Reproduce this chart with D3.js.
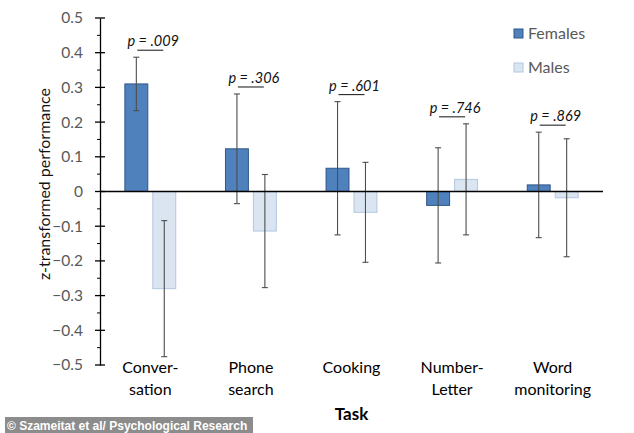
<!DOCTYPE html>
<html>
<head>
<meta charset="utf-8">
<script src="https://cdn.jsdelivr.net/npm/d3@7"></script>
<style>
  body { margin: 0; background: #fff; }
  svg text { font-family: Lato, "Open Sans", sans-serif; }
</style>
</head>
<body>
<svg width="634" height="433"></svg>
<script>
// data
const tasks = [["Conver-", "sation"], ["Phone", "search"], ["Cooking"], ["Number-", "Letter"], ["Word", "monitoring"]];
const series = ["Females", "Males"];
const females = [0.31, 0.123, 0.067, -0.04, 0.019];
const femalesErr = [0.077, 0.158, 0.192, 0.166, 0.152];
const males = [-0.28, -0.114, -0.06, 0.035, -0.018];
const malesErr = [0.196, 0.163, 0.144, 0.16, 0.17];
const pValues = ["p = .009", "p = .306", "p = .601", "p = .746", "p = .869"];
const yTicks = [0.5, 0.4, 0.3, 0.2, 0.1, 0, -0.1, -0.2, -0.3, -0.4, -0.5];

const colors = { Females: { fill: "#4f81bd", stroke: "#2f5788" }, Males: { fill: "#dbe5f1", stroke: "#b3c7e0" } };

const svg = d3.select("svg");
const plotLeft = 100, plotRight = 603, plotTop = 18, plotBottom = 365;

const y = d3.scaleLinear().domain([-0.5, 0.5]).range([plotBottom, plotTop]);
const x0 = d3.scaleBand().domain(d3.range(tasks.length)).range([plotLeft, plotRight]);
const x1 = d3.scaleBand().domain(series).range([0, x0.bandwidth()]).paddingInner(0.18).paddingOuter(0.89);

const rows = tasks.map((t, i) => [
  { s: "Females", v: females[i], e: femalesErr[i] },
  { s: "Males", v: males[i], e: malesErr[i] }
]);

// bars
const groups = svg.append("g").selectAll("g").data(rows).join("g")
  .attr("transform", (d, i) => "translate(" + x0(i) + ",0)");

groups.selectAll("rect").data(d => d).join("rect")
  .attr("x", d => x1(d.s))
  .attr("y", d => y(Math.max(0, d.v)))
  .attr("width", x1.bandwidth())
  .attr("height", d => Math.abs(y(d.v) - y(0)))
  .attr("fill", d => colors[d.s].fill)
  .attr("stroke", d => colors[d.s].stroke)
  .attr("stroke-width", 1);

// error bars
const err = groups.selectAll("g.err").data(d => d).join("g").attr("class", "err")
  .attr("stroke", "#4d4d4d").attr("stroke-width", 1.1);
err.append("line")
  .attr("x1", d => x1(d.s) + x1.bandwidth() / 2).attr("x2", d => x1(d.s) + x1.bandwidth() / 2)
  .attr("y1", d => y(d.v + d.e)).attr("y2", d => y(d.v - d.e));
err.append("line")
  .attr("x1", d => x1(d.s) + x1.bandwidth() / 2 - 3).attr("x2", d => x1(d.s) + x1.bandwidth() / 2 + 3)
  .attr("y1", d => y(d.v + d.e)).attr("y2", d => y(d.v + d.e));
err.append("line")
  .attr("x1", d => x1(d.s) + x1.bandwidth() / 2 - 3).attr("x2", d => x1(d.s) + x1.bandwidth() / 2 + 3)
  .attr("y1", d => y(d.v - d.e)).attr("y2", d => y(d.v - d.e));

// p values
groups.each(function (d, i) {
  const g = d3.select(this);
  const topY = y(d3.max(d, r => r.v + r.e)) - 11;
  const cx = x0.bandwidth() / 2;
  g.append("text")
    .attr("x", cx + 3).attr("y", topY)
    .attr("text-anchor", "middle")
    .attr("font-size", 14.5).attr("font-style", "italic").attr("fill", "#111")
    .text(pValues[i]);
  g.append("line")
    .attr("x1", cx - 13).attr("x2", cx + 13)
    .attr("y1", topY + 4).attr("y2", topY + 4)
    .attr("stroke", "#111").attr("stroke-width", 1);
});

// y axis
const yAxis = svg.append("g").attr("transform", "translate(" + plotLeft + ",0)")
  .call(d3.axisLeft(y).tickValues(yTicks).tickSize(0).tickPadding(17).tickFormat(d => d === 0 ? "0" : d3.format(".1f")(d)));
yAxis.select(".domain").attr("stroke", "#000").attr("stroke-width", 1.3);
yAxis.selectAll("text").attr("font-size", 15.5).attr("fill", "#595959")
  .attr("font-family", "Lato, 'Open Sans', sans-serif");
svg.append("g").selectAll("line").data(yTicks).join("line")
  .attr("x1", plotLeft - 5).attr("x2", plotLeft + 5)
  .attr("y1", d => y(d)).attr("y2", d => y(d))
  .attr("stroke", "#000").attr("stroke-width", 1.3);
svg.append("g").selectAll("line").data(yTicks.slice(1).map(d => d + 0.05)).join("line")
  .attr("x1", plotLeft - 3).attr("x2", plotLeft)
  .attr("y1", d => y(d)).attr("y2", d => y(d))
  .attr("stroke", "#000").attr("stroke-width", 1);

// zero line
svg.append("line")
  .attr("x1", plotLeft).attr("x2", plotRight)
  .attr("y1", y(0)).attr("y2", y(0))
  .attr("stroke", "#000").attr("stroke-width", 1.3);

// category labels
svg.append("g").selectAll("text").data(tasks).join("text")
  .attr("x", (d, i) => x0(i) + x0.bandwidth() / 2)
  .attr("y", 373)
  .attr("text-anchor", "middle")
  .attr("font-size", 16).attr("fill", "#000")
  .each(function (d) {
    d3.select(this).selectAll("tspan").data(d).join("tspan")
      .attr("x", d3.select(this).attr("x"))
      .attr("dy", (t, j) => j === 0 ? 0 : 22)
      .text(t => t);
  });

svg.append("text")
  .attr("x", (plotLeft + plotRight) / 2).attr("y", 420)
  .attr("text-anchor", "middle").attr("font-size", 17).attr("font-weight", "bold")
  .text("Task");

svg.append("text")
  .attr("transform", "translate(50,184) rotate(-90)")
  .attr("text-anchor", "middle").attr("font-size", 15).attr("fill", "#111")
  .attr("textLength", 192).attr("lengthAdjust", "spacingAndGlyphs")
  .text("z-transformed performance");

// legend
const legend = svg.append("g").selectAll("g").data(series).join("g")
  .attr("transform", (d, i) => "translate(514," + (29 + i * 34) + ")");
legend.append("rect").attr("width", 9).attr("height", 9)
  .attr("fill", d => colors[d].fill).attr("stroke", d => colors[d].stroke);
legend.append("text").attr("x", 14).attr("y", 10)
  .attr("font-size", 16).attr("fill", "#595959").text(d => d);

// watermark
svg.append("rect").attr("x", 5).attr("y", 417).attr("width", 248).attr("height", 16).attr("fill", "#8c8c8c");
svg.append("text").attr("x", 7).attr("y", 429.5)
  .attr("font-size", 12).attr("font-weight", "bold").attr("fill", "#fff")
  .style("font-family", "'Liberation Sans', Arial, sans-serif")
  .text("© Szameitat et al/ Psychological Research");
</script>
</body>
</html>
